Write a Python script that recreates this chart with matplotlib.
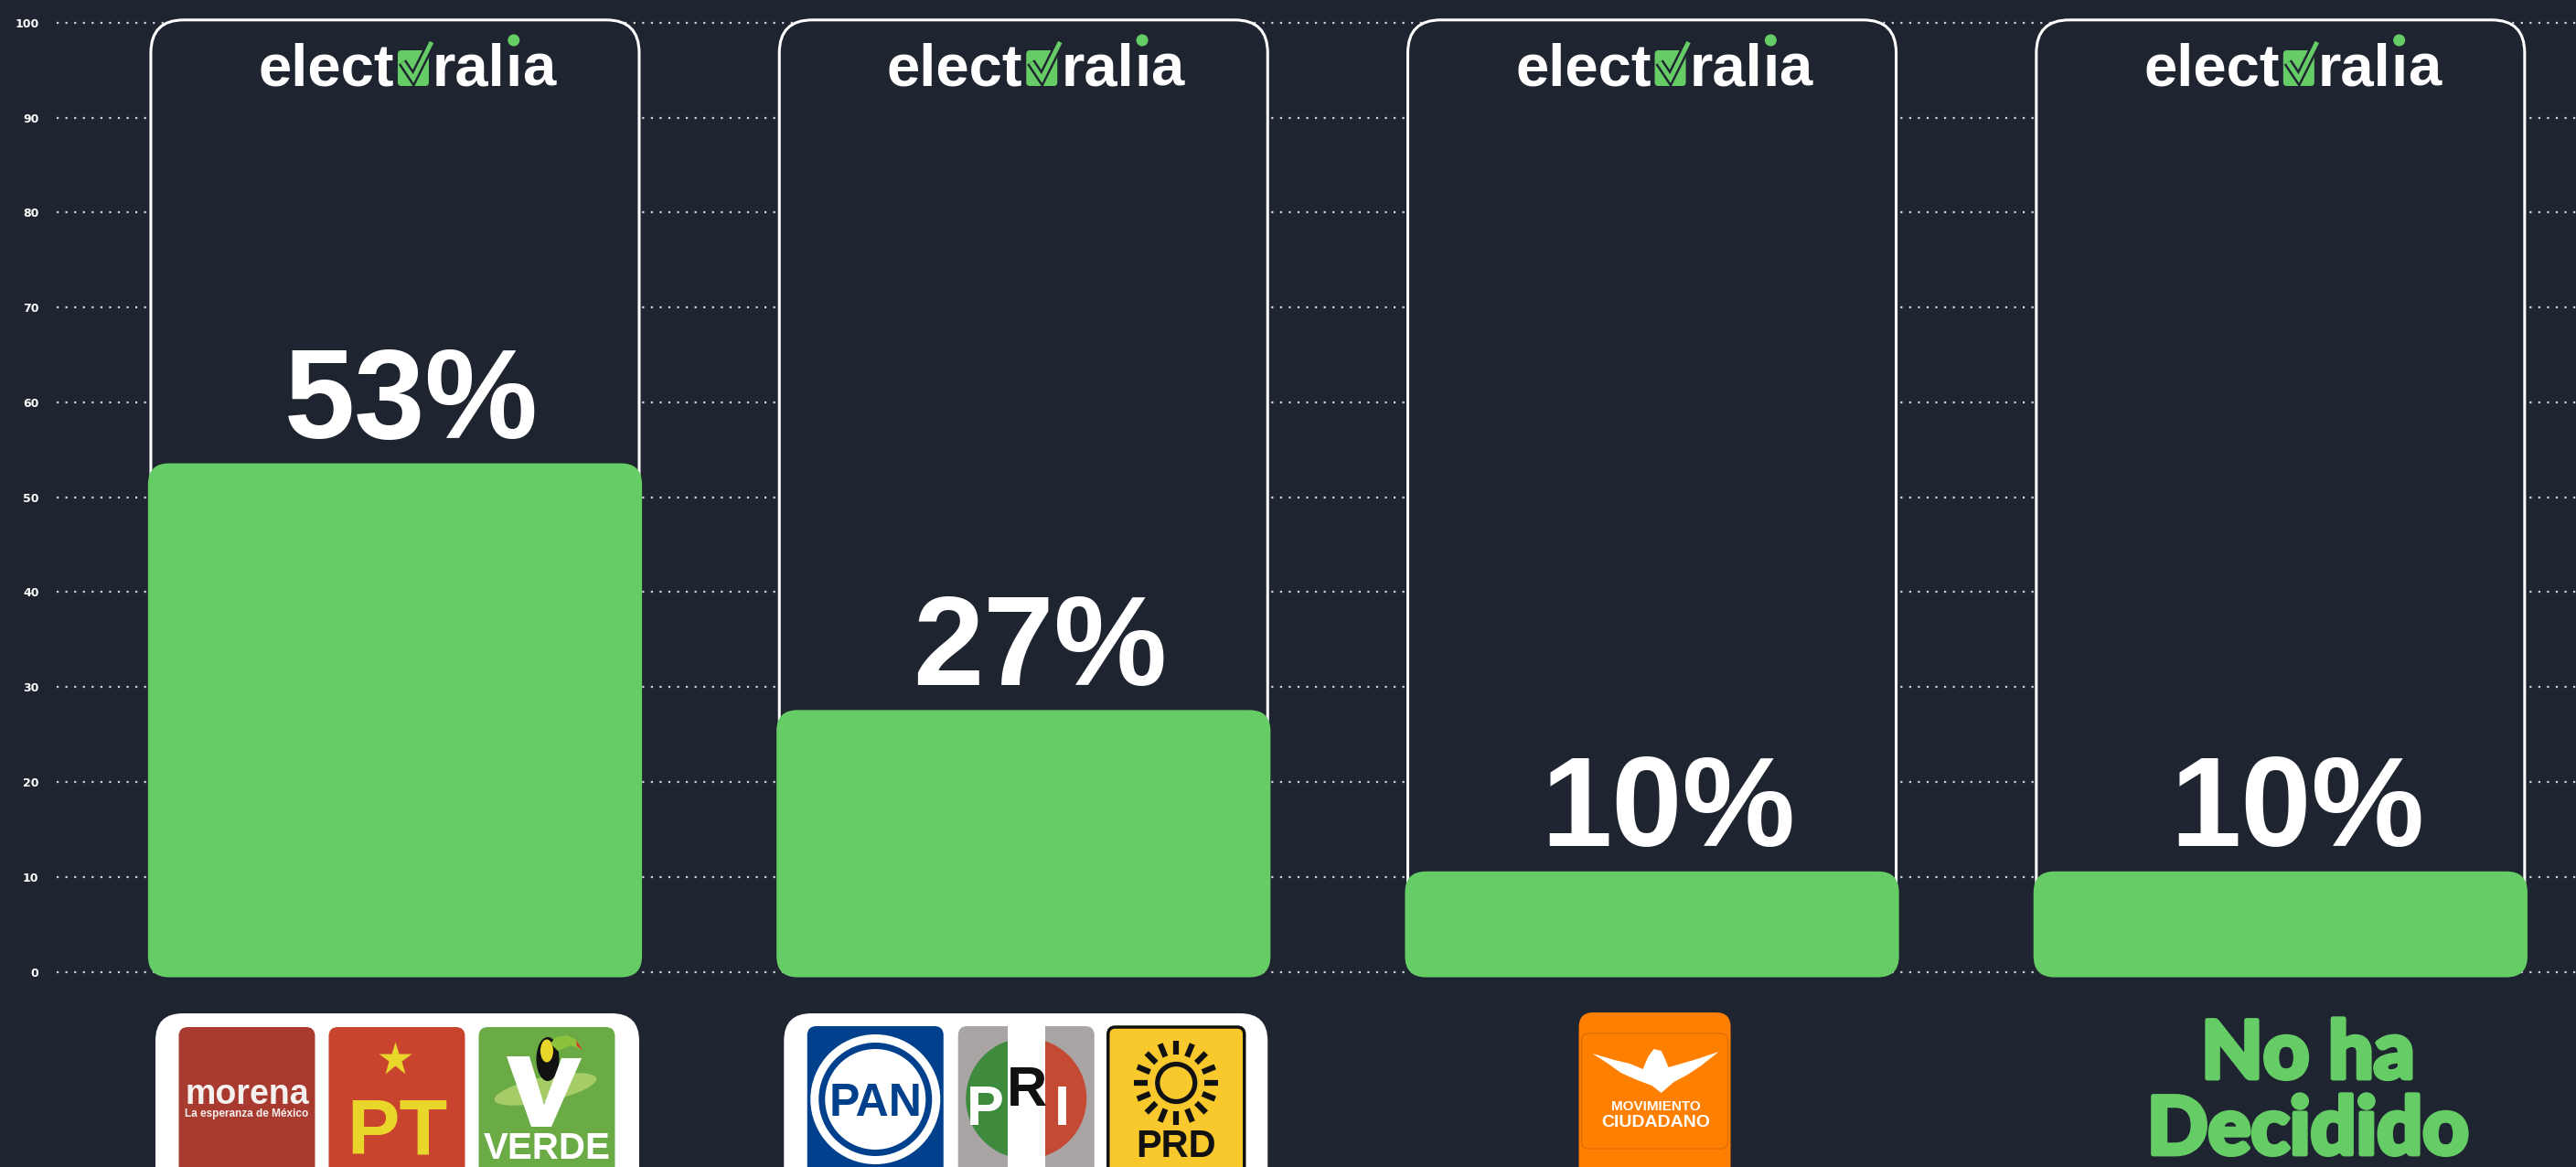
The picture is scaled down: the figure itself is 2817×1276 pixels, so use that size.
import numpy as np
import matplotlib.pyplot as plt
import matplotlib.patheffects as pe
from matplotlib.patches import FancyBboxPatch, Circle, Polygon, Ellipse, Rectangle

# Data
groups = ['MORENA / PT / VERDE', 'PAN / PRI / PRD', 'MOVIMIENTO CIUDADANO', 'No ha Decidido']
values = [53, 27, 10, 10]
pct_labels = ['53%', '27%', '10%', '10%']
ticks = [0, 10, 20, 30, 40, 50, 60, 70, 80, 90, 100]

BG = '#1f2431'
GREEN = '#66cc66'
W, H = 2817, 1276
FONT = ['Liberation Sans', 'DejaVu Sans']
NARROW = ['Liberation Sans Narrow', 'Liberation Sans', 'DejaVu Sans']

fig = plt.figure(figsize=(W / 100, H / 100), dpi=100, facecolor=BG)

# main axes: grid, cards, bars
left = 62 / W
ax = fig.add_axes([left, 0, 1 - left, 1])
ax.set_facecolor(BG)
ax.set_xlim(-0.5383, 3.4702)
ax.set_ylim(-20.57, 102.39)

px_x = (3.4702 + 0.5383) / (W - 62)
px_y = (102.39 + 20.57) / H
aspect = px_y / px_x


def rounded(rect, radius, pad, **kw):
    # swap a bar rectangle for a rounded one (radius and pad given in pixels)
    r, p = radius * px_x, pad * px_x
    box = FancyBboxPatch((rect.get_x() + p, rect.get_y()), rect.get_width() - 2 * p, rect.get_height(),
                         boxstyle=f'round,pad={p},rounding_size={r}', mutation_aspect=aspect, **kw)
    rect.remove()
    ax.add_patch(box)


x = np.arange(len(values))
cards = ax.bar(x, [100] * len(values), width=0.777)
bars = ax.bar(x, values, width=0.786)
for c in cards:
    rounded(c, 36, 3, fc=BG, ec='white', lw=2.2, zorder=1)
for b in bars:
    rounded(b, 23, 6, fc=GREEN, ec='none', zorder=2)

for xi, v, lab in zip(x, values, pct_labels):
    ax.annotate(lab, (xi, v), xytext=(13, 24), textcoords='offset points', ha='center', va='baseline',
                color='white', fontsize=100, fontweight='bold', family=FONT, zorder=3)

ax.set_yticks(ticks)
ax.set_xticks([])
ax.grid(axis='y', color='#d0d3d9', linestyle=(0, (1, 3.3)), linewidth=1.6)
ax.set_axisbelow(True)
ax.tick_params(axis='y', length=0, pad=14, labelcolor='white', labelsize=9)
for t in ax.get_yticklabels():
    t.set_fontweight('bold')
for s in ax.spines.values():
    s.set_visible(False)

# overlay in pixel coordinates for the logos
ov = fig.add_axes([0, 0, 1, 1], zorder=5)
ov.set_xlim(0, W)
ov.set_ylim(H, 0)
ov.axis('off')
centers = [ax.transData.transform((xi, 0))[0] for xi in x]


def rbox(x0, y0, w, h, r, **kw):
    ov.add_patch(FancyBboxPatch((x0, y0), w, h, boxstyle=f'round,pad=0,rounding_size={r}', **kw))


def electoralia(cx):
    base = 94
    rbox(cx + 3, 55, 34, 39, 4, fc=GREEN, ec='none')
    ck = [(cx + 8, 68), (cx + 20, 86), (cx + 40, 46)]
    ov.plot(*zip(*ck), color=BG, lw=7, solid_joinstyle='miter', solid_capstyle='butt')
    ov.plot(*zip(*ck), color=GREEN, lw=3.5, solid_joinstyle='miter', solid_capstyle='butt')
    kw = dict(color='white', fontsize=47, fontweight='bold', family=FONT)
    ov.text(cx - 1, base, 'elect', ha='right', va='baseline', **kw)
    t1 = ov.text(cx + 41, base, 'ral', ha='left', va='baseline', **kw)
    t2 = ov.annotate('ı', (1, 0), xycoords=t1, ha='left', va='bottom', **kw)
    ov.annotate('a', (1, 0), xycoords=t2, ha='left', va='bottom', **kw)
    return t2


def square(sx, top, fc, ec='none', lw=0, w=149, h=165, r=10):
    rbox(sx - w / 2, top, w, h, r, fc=fc, ec=ec, lw=lw)


def morena(sx, top):
    square(sx, top, '#a83a2f')
    ov.text(sx, top + 84, 'morena', ha='center', va='baseline', color='#f4f0ee',
            fontsize=27, fontweight='bold', family=FONT)
    ov.text(sx, top + 98, 'La esperanza de México', ha='center', va='baseline', color='#f4f0ee',
            fontsize=8.5, fontweight='bold', family=FONT)


def pt(sx, top):
    square(sx, top, '#c9442f')
    ov.plot(sx - 2, top + 35, marker='*', ms=28, color='#e8d62a', mec='none')
    ov.text(sx, top + 138, 'PT', ha='center', va='baseline', color='#e8d62a',
            fontsize=62, fontweight='bold', family=FONT)


def verde(sx, top):
    square(sx, top, '#6aab46')
    ov.add_patch(Ellipse((sx - 1.5, top + 68), 114, 27, angle=-12, fc='#a6cc68', ec='none'))
    ov.add_patch(Ellipse((sx + 1, top + 35), 25, 48, fc='#111111'))
    ov.add_patch(Ellipse((sx, top + 26), 14, 25, fc='#e8d62a'))
    beak = [(4, 18), (10, 11), (22, 9), (33, 14), (39, 25), (26, 20), (12, 26)]
    ov.add_patch(Polygon([(sx + a, top + b) for a, b in beak], fc='#8cc23c'))
    tip = [(32, 14), (39, 25), (33, 21)]
    ov.add_patch(Polygon([(sx + a, top + b) for a, b in tip], fc='#d8342c'))
    v = [(-44, 32), (-19, 32), (-3, 85), (16, 34), (38, 34), (5, 109), (-17, 109)]
    ov.add_patch(Polygon([(sx + a, top + b) for a, b in v], fc='white'))
    ov.text(sx, top + 144, 'VERDE', ha='center', va='baseline', color='white',
            fontsize=29, fontweight='bold', family=NARROW)


def pan(sx, top):
    blue = '#00408c'
    square(sx, top, blue)
    cy = top + 80
    ov.add_patch(Circle((sx, cy), 71, fc='white'))
    ov.add_patch(Circle((sx, cy), 62, fc=blue))
    ov.add_patch(Circle((sx, cy), 55, fc='white'))
    ov.text(sx, cy + 18, 'PAN', ha='center', va='baseline', color=blue,
            fontsize=36, fontweight='bold', family=NARROW)


def pri(sx, top):
    square(sx, top, '#a9a5a4')
    cy = top + 79
    th = np.linspace(np.pi / 2, 3 * np.pi / 2, 60)
    ov.add_patch(Polygon(np.column_stack([sx + 66 * np.cos(th), cy + 66 * np.sin(th)]), fc='#3e8b3e'))
    th = np.linspace(-np.pi / 2, np.pi / 2, 60)
    ov.add_patch(Polygon(np.column_stack([sx + 66 * np.cos(th), cy + 66 * np.sin(th)]), fc='#c44a34'))
    ov.add_patch(Rectangle((sx - 20.5, top), 41, 165, fc='white'))
    kw = dict(ha='center', va='baseline', fontsize=44, fontweight='bold', family=NARROW)
    ov.text(sx - 45, top + 108, 'P', color='white', **kw)
    ov.text(sx + 1, top + 87, 'R', color='#111111', **kw)
    ov.text(sx + 39, top + 108, 'I', color='white', **kw)


def prd(sx, top):
    square(sx, top, '#f9c82d', ec='#111111', lw=2.5, r=8)
    cy = top + 61
    ov.add_patch(Circle((sx, cy), 20.5, fc='none', ec='#111111', lw=3.8))
    for a in np.linspace(0, 2 * np.pi, 16, endpoint=False):
        ov.plot([sx + 31 * np.sin(a), sx + 46 * np.sin(a)], [cy - 31 * np.cos(a), cy - 46 * np.cos(a)],
                color='#111111', lw=4.5, solid_capstyle='butt')
    ov.text(sx, top + 142, 'PRD', ha='center', va='baseline', color='#111111',
            fontsize=30, fontweight='bold', family=NARROW)


def group_box(cx):
    rbox(cx - 262, 1108, 529, 220, 30, fc='white', ec='none')


def mc(cx):
    mx = cx + 3
    rbox(mx - 83, 1107, 166, 200, 16, fc='#ff7f00', ec='none')
    rbox(mx - 80, 1130, 160, 126, 8, fc='none', ec='#d96c00', lw=0.8)
    ex, ey = cx + 4, 1173
    eagle = [(-69, -21), (-45, -14), (-28, -10), (-14, -4), (-8, -18), (-2, -26), (6, -24), (10, -16),
             (14, -6), (28, -10), (45, -15), (69, -23), (50, -8), (35, 2), (20, 10), (6, 22),
             (-4, 14), (-20, 8), (-38, 0), (-52, -10)]
    ov.add_patch(Polygon([(ex + a, ey + b) for a, b in eagle], fc='white'))
    ov.text(mx + 1, 1210, 'MOVIMIENTO', ha='center', va='center', color='white',
            fontsize=11, fontweight='bold', family=FONT)
    ov.text(mx + 1, 1228, 'CIUDADANO', ha='center', va='center', color='white',
            fontsize=14, fontweight='bold', family=FONT)


i_glyphs = [electoralia(c) for c in centers]

c0, c1, c2, c3 = centers
group_box(c0)
morena(c0 - 162, 1123)
pt(c0 + 2, 1123)
verde(c0 + 166, 1123)

group_box(c1)
pan(c1 - 162, 1122)
pri(c1 + 3, 1122)
prd(c1 + 167, 1123)

mc(c2)

# heavy green label, thickened with a stroke of the same colour
nkw = dict(ha='center', va='baseline', color=GREEN, fontsize=63, fontweight='black',
           family=['Lato', 'DejaVu Sans'],
           path_effects=[pe.withStroke(linewidth=3.5, foreground=GREEN)])
ov.text(c3 + 30, 1179, 'No ha', **nkw)
ov.text(c3 + 30, 1262, 'Decidido', **nkw)

# green dot over the i of "electoralia"
fig.canvas.draw()
rend = fig.canvas.get_renderer()
for t in i_glyphs:
    bb = t.get_window_extent(rend)
    ov.add_patch(Circle(((bb.x0 + bb.x1) / 2, 44), 6.5, fc=GREEN, ec='none'))

fig.savefig('out.png', dpi=100, facecolor=BG)
